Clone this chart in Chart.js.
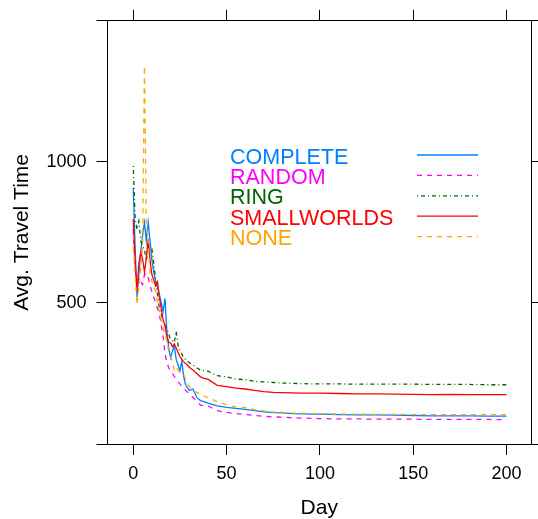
<!DOCTYPE html>
<html>
<head>
<meta charset="utf-8">
<script src="https://cdn.jsdelivr.net/npm/chart.js@4.4.1/dist/chart.umd.min.js"></script>
<style>
  html, body { margin: 0; padding: 0; background: #fff; }
  canvas { display: block; }
</style>
</head>
<body>
<canvas id="myChart" width="538" height="519"></canvas>
<script>
var days = [0, 1, 2, 3, 4, 5, 6, 7, 8, 9, 10, 11, 12, 13, 14, 15, 16, 17, 18, 19, 20,
  21, 22, 23, 24, 25, 26, 27, 28, 29, 30, 32, 34, 36, 38, 40,
  45, 50, 55, 60, 65, 70, 75, 80, 85, 90, 95, 100,
  110, 120, 130, 140, 150, 160, 170, 180, 190, 200];

var complete = [908, 700, 520, 600, 680, 740, 785, 720, 785, 720, 650, 610, 575, 555, 530, 500, 470, 516, 400, 340, 306,
  330, 347, 300, 280, 259, 294, 240, 210, 200, 190, 195, 165, 154, 150, 145,
  135, 130, 126, 123, 118, 114, 111, 110, 108, 107, 106, 106,
  104, 103, 103, 102, 101, 100, 100, 100, 99, 99];

var random = [760, 620, 560, 590, 575, 565, 600, 605, 590, 560, 540, 520, 500, 480, 460, 420, 380, 320, 290, 270, 259,
  250, 240, 230, 220, 213, 205, 198, 190, 184, 178, 165, 152, 138, 136, 135,
  118, 112, 108, 105, 101, 98, 96, 95, 93, 92, 91, 90,
  89, 89, 88, 88, 88, 87, 87, 87, 87, 86];

var ring = [985, 800, 760, 790, 720, 700, 690, 650, 700, 680, 690, 640, 580, 530, 480, 460, 440, 420, 410, 390, 370,
  365, 360, 400, 350, 330, 320, 305, 300, 295, 288, 280, 270, 262, 260, 258,
  242, 238, 230, 228, 222, 220, 218, 216, 215, 214, 213, 213,
  213, 212, 212, 212, 212, 211, 211, 211, 210, 210];

var smallworlds = [797, 650, 540, 640, 680, 656, 610, 660, 727, 650, 600, 580, 560, 575, 520, 480, 440, 420, 380, 360, 358,
  345, 354, 340, 324, 310, 300, 292, 285, 280, 272, 262, 250, 238, 233, 230,
  208, 203, 198, 195, 190, 186, 183, 182, 181, 180, 180, 180,
  179, 178, 178, 177, 176, 175, 176, 175, 175, 175];

var none = [700, 600, 494, 560, 620, 700, 1340, 780, 720, 600, 575, 560, 540, 500, 470, 440, 411, 390, 364, 330, 310,
  294, 259, 270, 262, 255, 250, 248, 230, 215, 205, 190, 183, 178, 170, 164,
  150, 139, 131, 129, 122, 117, 113, 112, 110, 109, 108, 108,
  106, 106, 105, 105, 104, 104, 104, 104, 104, 104];

var seriesNames = ['COMPLETE', 'RANDOM', 'RING', 'SMALLWORLDS', 'NONE'];
var xTicks = [0, 50, 100, 150, 200];
var yTicks = [0, 500, 1000, 1500];
var yTickLabels = [500, 1000];

var fontFamily = '"Liberation Sans", Arial, Helvetica, sans-serif';
var lineColors = ['#0080ff', '#ff00ff', '#006400', '#ff0000', '#ffa500'];
var lineDashes = [[], [5, 5], [1, 3, 4, 3], [], [5, 5]];

function toPoints(values) {
  return values.map(function(v, i) { return { x: days[i], y: v }; });
}

function setTicks(list) {
  return function(scale) {
    scale.ticks = list.map(function(v) { return { value: v }; });
  };
}

function fixSize(size) {
  return function(scale) {
    if (scale.isHorizontal()) scale.height = size;
    else scale.width = size;
  };
}

// legend: coloured names on the left, line samples on the right
var legendBox = {
  id: 'legendBox',
  afterDatasetsDraw: function(chart) {
    var ctx = chart.ctx;
    ctx.save();
    ctx.font = '21.5px ' + fontFamily;
    ctx.textBaseline = 'alphabetic';
    ctx.textAlign = 'left';
    chart.data.datasets.forEach(function(ds, i) {
      var base = 163.5 + i * 20.4;
      ctx.fillStyle = ds.borderColor;
      ctx.fillText(ds.label, 230, base);
      ctx.strokeStyle = ds.borderColor;
      ctx.lineWidth = ds.borderWidth;
      ctx.setLineDash(ds.borderDash);
      ctx.beginPath();
      ctx.moveTo(417, base - 8.5);
      ctx.lineTo(478, base - 8.5);
      ctx.stroke();
    });
    ctx.restore();
  }
};

window.onload = function() {
  init();
};

function init() {
  var allValues = [complete, random, ring, smallworlds, none];
  var datasets = allValues.map(function(values, i) {
    return {
      label: seriesNames[i],
      data: toPoints(values),
      borderColor: lineColors[i],
      borderWidth: 1.3,
      borderDash: lineDashes[i],
      pointRadius: 0,
      fill: false,
      tension: 0,
      order: 4 - i,
      xAxisID: 'x',
      yAxisID: 'y'
    };
  });

  var frame = { display: true, color: '#000', width: 1 };
  var grid = { drawOnChartArea: false, drawTicks: true, tickLength: 11, color: '#000', lineWidth: 1 };
  var tickFont = { family: fontFamily, size: 18 };

  var ctx = document.getElementById('myChart').getContext('2d');
  var chart = new Chart(ctx, {
    type: 'line',
    data: { datasets: datasets },
    plugins: [legendBox],
    options: {
      responsive: false,
      animation: false,
      devicePixelRatio: 1,
      layout: { padding: 0 },
      plugins: {
        legend: { display: false },
        tooltip: { enabled: false }
      },
      scales: {
        x: {
          type: 'linear',
          position: 'bottom',
          min: -13.8,
          max: 213.1,
          afterBuildTicks: setTicks(xTicks),
          afterFit: fixSize(75),
          border: frame,
          grid: grid,
          ticks: {
            color: '#000',
            font: tickFont,
            padding: 8,
            maxRotation: 0,
            callback: function(v) { return String(v); }
          },
          title: {
            display: true,
            text: 'Day',
            color: '#000',
            font: { family: fontFamily, size: 21, lineHeight: '22px' },
            padding: 0
          }
        },
        xTop: {
          type: 'linear',
          position: 'top',
          min: -13.8,
          max: 213.1,
          afterBuildTicks: setTicks(xTicks),
          afterFit: fixSize(16),
          border: frame,
          grid: grid,
          ticks: { display: false }
        },
        y: {
          type: 'linear',
          position: 'left',
          min: 0,
          max: 1500,
          afterBuildTicks: setTicks(yTicks),
          afterFit: fixSize(107.5),
          border: frame,
          grid: grid,
          ticks: {
            color: '#000',
            font: tickFont,
            padding: 10,
            callback: function(v) { return yTickLabels.indexOf(v) >= 0 ? String(v) : ''; }
          },
          title: {
            display: true,
            text: 'Avg. Travel Time',
            color: '#000',
            font: { family: fontFamily, size: 21, lineHeight: '22px' },
            padding: { top: 11, bottom: 0 }
          }
        },
        yRight: {
          type: 'linear',
          position: 'right',
          min: 0,
          max: 1500,
          afterBuildTicks: setTicks(yTicks),
          afterFit: fixSize(7),
          border: frame,
          grid: grid,
          ticks: { display: false }
        }
      }
    }
  });
}
</script>
</body>
</html>
